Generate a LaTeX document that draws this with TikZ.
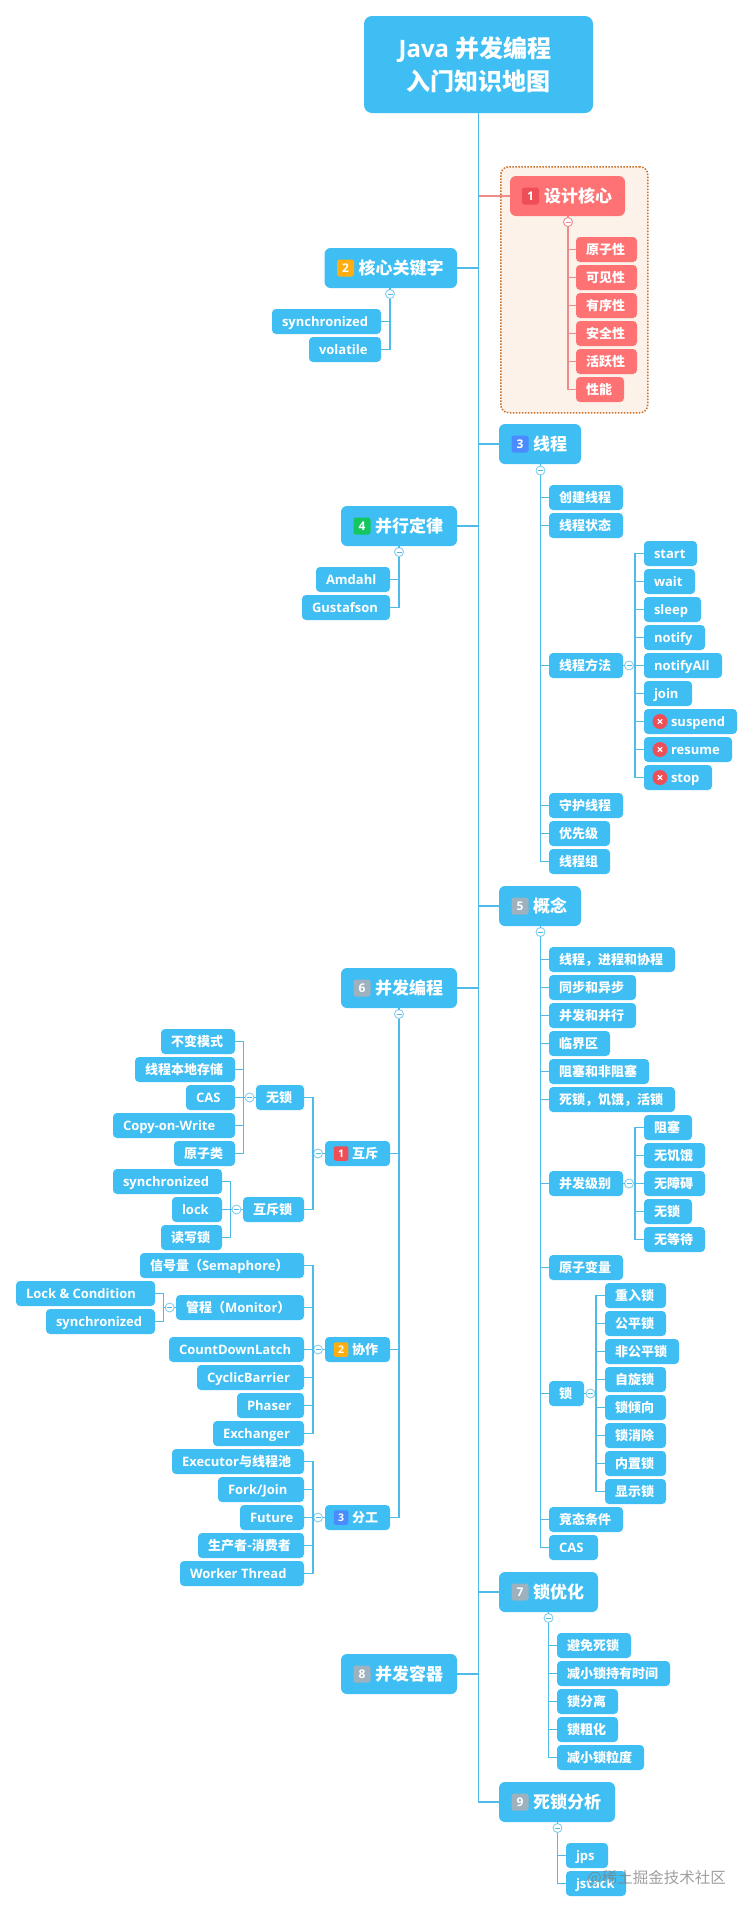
\documentclass[tikz,border=0pt]{standalone}
\usepackage{fontspec}
\setmainfont{Open Sans}
\newfontfamily\cjkfam{Noto Sans CJK SC}
\newcommand{\cj}[1]{{\cjkfam\bfseries #1}}
\definecolor{nodeblue}{HTML}{3EBEF3}
\definecolor{linkblue}{HTML}{4DBCEB}
\definecolor{collblue}{HTML}{85CDEE}
\definecolor{nodered}{HTML}{FE7273}
\definecolor{linkred}{HTML}{F08A8A}
\definecolor{framefill}{HTML}{FDF2E9}
\definecolor{frameline}{HTML}{C8702A}
\definecolor{bred}{HTML}{EE4E55}
\definecolor{byellow}{HTML}{FFAE12}
\definecolor{bblue}{HTML}{4A8CFF}
\definecolor{bgreen}{HTML}{13C75E}
\definecolor{bgray}{HTML}{9DB2BE}
\tikzset{
  base/.style={anchor=north west,inner sep=0pt,outer sep=0pt,text=white,font=\fontsize{13}{16}\selectfont\bfseries},
  leafbox/.style={base,fill=nodeblue,rounded corners=4pt,minimum height=25pt,text height=11pt,text depth=1pt},
  leafred/.style={leafbox,fill=nodered},
  topicbox/.style={base,fill=nodeblue,rounded corners=6pt,minimum height=40pt,text height=14.4pt,text depth=1.2pt,font=\fontsize{17}{20}\selectfont\bfseries},
  topicred/.style={topicbox,fill=nodered},
  rootbox/.style={anchor=north west,fill=nodeblue,rounded corners=8pt,inner sep=0pt,outer sep=0pt,text=white,align=center,minimum width=229pt,minimum height=97pt,font=\fontsize{24}{33}\selectfont\bfseries},
  bigbadge/.style={fill=#1,rounded corners=2.5pt,minimum width=17pt,minimum height=17pt,inner sep=0pt,text=white,font=\fontsize{12}{12}\selectfont\bfseries},
  smallbadge/.style={fill=#1,rounded corners=2pt,minimum width=14.5pt,minimum height=14.5pt,inner sep=0pt,text=white,font=\fontsize{10.5}{11}\selectfont\bfseries},
  coll/.style={circle,draw=collblue,fill=white,line width=0.9pt,minimum size=9pt,inner sep=0pt,outer sep=0pt,
    path picture={\draw[line width=0.9pt,#1] ([xshift=-2.5pt]path picture bounding box.center) -- ([xshift=2.5pt]path picture bounding box.center);}},
  coll/.default=linkblue,
  collred/.style={coll=linkred,draw=linkred},
  link/.style={draw=linkblue,line width=1.2pt},
  linkr/.style={draw=linkred,line width=1.2pt},
  xmark/.style={circle,fill=bred,minimum size=15pt,inner sep=0pt,
    path picture={\draw[white,line width=1.3pt] ([shift={(-2.2pt,-2.2pt)}]path picture bounding box.center) -- ([shift={(2.2pt,2.2pt)}]path picture bounding box.center)
      ([shift={(-2.2pt,2.2pt)}]path picture bounding box.center) -- ([shift={(2.2pt,-2.2pt)}]path picture bounding box.center);}},
  framebox/.style={draw=frameline,fill=framefill,line width=1.5pt,dash pattern=on 1.5pt off 1.5pt,rounded corners=8pt},
  wmark/.style={text=gray,opacity=0.75,inner sep=0pt,font=\fontsize{15.5}{16}\selectfont}
}
% style, left pad, name, x1, x2, ytop, text
\newcommand{\nd}[7]{\pgfmathsetmacro{\boxw}{#5-#4}\node[#1,minimum width=\boxw pt] (#3) at (#4,#6) {\makebox[\boxw pt][l]{\hspace{#2pt}#7}};}
\newcommand{\lfn}[5]{\nd{leafbox}{10}{#1}{#2}{#3}{#4}{#5}}
\newcommand{\lrn}[5]{\nd{leafred}{10}{#1}{#2}{#3}{#4}{#5}}
\newcommand{\tpn}[5]{\nd{topicbox}{34}{#1}{#2}{#3}{#4}{#5}}
\newcommand{\pdn}[5]{\nd{leafbox}{27}{#1}{#2}{#3}{#4}{#5}}
\begin{document}
\begin{tikzpicture}[x=1pt,y=-1pt]
\useasboundingbox (0,0) rectangle (753,1912);
\fill[white] (0,0) rectangle (753,1912);
\node[framebox,anchor=north west,minimum width=147pt,minimum height=246pt,inner sep=0pt] (frame) at (500,166) {};
\node[rootbox] (root) at (364,16) {\hspace*{-7pt}Java \cj{并发编程}\\\hspace*{0pt}\cj{入门知识地图}};

% topics
\nd{topicred}{34}{t1}{510}{625}{176}{\cj{设计核心}}
\tpn{t2}{324.5}{457}{248}{\cj{核心关键字}}
\tpn{t3}{499}{581}{424}{\cj{线程}}
\tpn{t4}{341}{457}{506}{\cj{并行定律}}
\tpn{t5}{499}{581}{886}{\cj{概念}}
\tpn{t6}{341}{457}{968}{\cj{并发编程}}
\tpn{t7}{499}{598}{1572}{\cj{锁优化}}
\tpn{t8}{341}{457}{1654}{\cj{并发容器}}
\tpn{t9}{499}{615}{1782}{\cj{死锁分析}}

% spine
\draw[link] (root.south) |- (t9.west);
\foreach \n in {t3,t5,t7} \draw[link] (root.south) |- (\n.west);
\foreach \n in {t2,t4,t6,t8} \draw[link] (root.south) |- (\n.east);
\draw[linkr] (root.south |- t1.west) -- (t1.west);

% badges
\node[bigbadge=bred] (b1) at ([xshift=20.5pt]t1.west) {1};
\node[bigbadge=byellow] (b2) at ([xshift=21pt]t2.west) {2};
\node[bigbadge=bblue] (b3) at ([xshift=21pt]t3.west) {3};
\node[bigbadge=bgreen] (b4) at ([xshift=21pt]t4.west) {4};
\node[bigbadge=bgray] (b5) at ([xshift=21pt]t5.west) {5};
\node[bigbadge=bgray] (b6) at ([xshift=21pt]t6.west) {6};
\node[bigbadge=bgray] (b7) at ([xshift=21pt]t7.west) {7};
\node[bigbadge=bgray] (b8) at ([xshift=21pt]t8.west) {8};
\node[bigbadge=bgray] (b9) at ([xshift=21pt]t9.west) {9};

% 1
\lrn{a1}{576}{637}{237}{\cj{原子性}}
\lrn{a2}{576}{637}{265}{\cj{可见性}}
\lrn{a3}{576}{637}{293}{\cj{有序性}}
\lrn{a4}{576}{637}{321}{\cj{安全性}}
\lrn{a5}{576}{637}{349}{\cj{活跃性}}
\lrn{a6}{576}{624}{377}{\cj{性能}}
\node[collred] (c1) at (568,222) {};
\draw[linkr] (t1.south -| c1) -- (c1.north);
\foreach \n in {a1,a2,a3,a4,a5,a6} \draw[linkr] (c1.south) |- (\n.west);

% 2
\lfn{k1}{272}{381}{309}{synchronized}
\lfn{k2}{309}{381}{337}{volatile}
\node[coll] (c2) at (390,294) {};
\draw[link] (t2.south -| c2) -- (c2.north);
\foreach \n in {k1,k2} \draw[link] (c2.south) |- (\n.east);

% 3
\lfn{h1}{549}{623}{485}{\cj{创建线程}}
\lfn{h2}{549}{623}{513}{\cj{线程状态}}
\lfn{h3}{549}{623}{653}{\cj{线程方法}}
\lfn{h4}{549}{623}{793}{\cj{守护线程}}
\lfn{h5}{549}{610}{821}{\cj{优先级}}
\lfn{h6}{549}{610}{849}{\cj{线程组}}
\node[coll] (c3) at (540.5,470.5) {};
\draw[link] (t3.south -| c3) -- (c3.north);
\foreach \n in {h1,h2,h3,h4,h5,h6} \draw[link] (c3.south) |- (\n.west);
\lfn{m1}{644}{697}{541}{start}
\lfn{m2}{644}{695}{569}{wait}
\lfn{m3}{644}{701}{597}{sleep}
\lfn{m4}{644}{705}{625}{notify}
\lfn{m5}{644}{722}{653}{notifyAll}
\lfn{m6}{644}{692}{681}{join}
\pdn{m7}{644}{737}{709}{suspend}
\pdn{m8}{644}{732}{737}{resume}
\pdn{m9}{644}{712}{765}{stop}
\node[xmark] (x7) at ([xshift=16pt]m7.west) {};
\node[xmark] (x8) at ([xshift=16pt]m8.west) {};
\node[xmark] (x9) at ([xshift=16pt]m9.west) {};
\node[coll] (cm) at (629,665.5) {};
\coordinate (bm) at (635,665.5);
\draw[link] (h3.east) -- (cm.west) (cm.east) -- (bm);
\foreach \n in {m1,m2,m3,m4,m5,m6,m7,m8,m9} \draw[link] (bm) |- (\n.west);

% 4
\lfn{d1}{316}{390}{567}{Amdahl}
\lfn{d2}{302}{390}{595}{Gustafson}
\node[coll] (c4) at (399,552) {};
\draw[link] (t4.south -| c4) -- (c4.north);
\foreach \n in {d1,d2} \draw[link] (c4.south) |- (\n.east);

% 5
\lfn{g1}{549}{675}{947}{\cj{线程，进程和协程}}
\lfn{g2}{549}{636}{975}{\cj{同步和异步}}
\lfn{g3}{549}{636}{1003}{\cj{并发和并行}}
\lfn{g4}{549}{610}{1031}{\cj{临界区}}
\lfn{g5}{549}{649}{1059}{\cj{阻塞和非阻塞}}
\lfn{g6}{549}{675}{1087}{\cj{死锁，饥饿，活锁}}
\lfn{g7}{549}{623}{1171}{\cj{并发级别}}
\lfn{g8}{549}{623}{1255}{\cj{原子变量}}
\lfn{g9}{549}{584}{1381}{\cj{锁}}
\lfn{g10}{549}{623}{1507}{\cj{竞态条件}}
\lfn{g11}{549}{598}{1535}{CAS}
\node[coll] (c5) at (540.5,932) {};
\draw[link] (t5.south -| c5) -- (c5.north);
\foreach \n in {g1,g2,g3,g4,g5,g6,g7,g8,g9,g10,g11} \draw[link] (c5.south) |- (\n.west);
\lfn{v1}{644}{692}{1115}{\cj{阻塞}}
\lfn{v2}{644}{705}{1143}{\cj{无饥饿}}
\lfn{v3}{644}{705}{1171}{\cj{无障碍}}
\lfn{v4}{644}{692}{1199}{\cj{无锁}}
\lfn{v5}{644}{705}{1227}{\cj{无等待}}
\node[coll] (cv) at (629,1183.5) {};
\coordinate (bv) at (635,1183.5);
\draw[link] (g7.east) -- (cv.west) (cv.east) -- (bv);
\foreach \n in {v1,v2,v3,v4,v5} \draw[link] (bv) |- (\n.west);
\lfn{s1}{605}{666}{1283}{\cj{重入锁}}
\lfn{s2}{605}{666}{1311}{\cj{公平锁}}
\lfn{s3}{605}{679}{1339}{\cj{非公平锁}}
\lfn{s4}{605}{666}{1367}{\cj{自旋锁}}
\lfn{s5}{605}{666}{1395}{\cj{锁倾向}}
\lfn{s6}{605}{666}{1423}{\cj{锁消除}}
\lfn{s7}{605}{666}{1451}{\cj{内置锁}}
\lfn{s8}{605}{666}{1479}{\cj{显示锁}}
\node[coll] (cs) at (590.5,1393.5) {};
\coordinate (bs) at (596,1393.5);
\draw[link] (g9.east) -- (cs.west) (cs.east) -- (bs);
\foreach \n in {s1,s2,s3,s4,s5,s6,s7,s8} \draw[link] (bs) |- (\n.west);

% 6
\pdn{p1}{325}{390}{1141}{\cj{互斥}}
\pdn{p2}{325}{390}{1337}{\cj{协作}}
\pdn{p3}{325}{390}{1505}{\cj{分工}}
\node[smallbadge=bred] (q1) at ([xshift=16pt]p1.west) {1};
\node[smallbadge=byellow] (q2) at ([xshift=16pt]p2.west) {2};
\node[smallbadge=bblue] (q3) at ([xshift=16pt]p3.west) {3};
\node[coll] (c6) at (399,1014) {};
\draw[link] (t6.south -| c6) -- (c6.north);
\foreach \n in {p1,p2,p3} \draw[link] (c6.south) |- (\n.east);

\lfn{w1}{256}{304}{1085}{\cj{无锁}}
\lfn{w2}{243}{304}{1197}{\cj{互斥锁}}
\node[coll] (cp1) at (318,1153.5) {};
\coordinate (bp1) at (313,1153.5);
\draw[link] (p1.west) -- (cp1.east) (cp1.west) -- (bp1);
\foreach \n in {w1,w2} \draw[link] (bp1) |- (\n.east);

\lfn{e1}{161}{235}{1029}{\cj{不变模式}}
\lfn{e2}{135}{235}{1057}{\cj{线程本地存储}}
\lfn{e3}{186}{235}{1085}{CAS}
\lfn{e4}{113}{235}{1113}{Copy-on-Write}
\lfn{e5}{174}{235}{1141}{\cj{原子类}}
\node[coll] (cw1) at (249.5,1097.5) {};
\coordinate (bw1) at (243.3,1097.5);
\draw[link] (w1.west) -- (cw1.east) (cw1.west) -- (bw1);
\foreach \n in {e1,e2,e3,e4,e5} \draw[link] (bw1) |- (\n.east);

\lfn{f1}{113}{222}{1169}{synchronized}
\lfn{f2}{172}{222}{1197}{lock}
\lfn{f3}{161}{222}{1225}{\cj{读写锁}}
\node[coll] (cw2) at (236.5,1209.5) {};
\coordinate (bw2) at (230.7,1209.5);
\draw[link] (w2.west) -- (cw2.east) (cw2.west) -- (bw2);
\foreach \n in {f1,f2,f3} \draw[link] (bw2) |- (\n.east);

\lfn{r1}{140}{304}{1253}{\cj{信号量（}Semaphore\cj{）}}
\lfn{r2}{176}{304}{1295}{\cj{管程（}Monitor\cj{）}}
\lfn{r3}{169}{304}{1337}{CountDownLatch}
\lfn{r4}{197}{304}{1365}{CyclicBarrier}
\lfn{r5}{237}{304}{1393}{Phaser}
\lfn{r6}{213}{304}{1421}{Exchanger}
\node[coll] (cp2) at (318,1349.5) {};
\coordinate (bp2) at (313,1349.5);
\draw[link] (p2.west) -- (cp2.east) (cp2.west) -- (bp2);
\foreach \n in {r1,r2,r3,r4,r5,r6} \draw[link] (bp2) |- (\n.east);

\lfn{o1}{16}{155}{1281}{Lock \& Condition}
\lfn{o2}{46}{155}{1309}{synchronized}
\node[coll] (cr2) at (169.7,1307.5) {};
\coordinate (br2) at (163.7,1307.5);
\draw[link] (r2.west) -- (cr2.east) (cr2.west) -- (br2);
\foreach \n in {o1,o2} \draw[link] (br2) |- (\n.east);

\lfn{u1}{172}{304}{1449}{Executor\cj{与线程池}}
\lfn{u2}{218}{304}{1477}{Fork/Join}
\lfn{u3}{240}{304}{1505}{Future}
\lfn{u4}{198}{304}{1533}{\cj{生产者-消费者}}
\lfn{u5}{180}{304}{1561}{Worker Thread}
\node[coll] (cp3) at (318,1517.5) {};
\coordinate (bp3) at (313,1517.5);
\draw[link] (p3.west) -- (cp3.east) (cp3.west) -- (bp3);
\foreach \n in {u1,u2,u3,u4,u5} \draw[link] (bp3) |- (\n.east);

% 7
\lfn{l1}{557}{631}{1633}{\cj{避免死锁}}
\lfn{l2}{557}{670}{1661}{\cj{减小锁持有时间}}
\lfn{l3}{557}{618}{1689}{\cj{锁分离}}
\lfn{l4}{557}{618}{1717}{\cj{锁粗化}}
\lfn{l5}{557}{644}{1745}{\cj{减小锁粒度}}
\node[coll] (c7) at (548.5,1618) {};
\draw[link] (t7.south -| c7) -- (c7.north);
\foreach \n in {l1,l2,l3,l4,l5} \draw[link] (c7.south) |- (\n.west);

% 9
\lfn{j1}{566}{608}{1843}{jps}
\lfn{j2}{566}{626}{1871}{jstack}
\node[coll] (c9) at (557.5,1828) {};
\draw[link] (t9.south -| c9) -- (c9.north);
\foreach \n in {j1,j2} \draw[link] (c9.south) |- (\n.west);

\node[wmark,anchor=west] (wm) at (587,1878) {{\cjkfam @稀土掘金技术社区}};
\end{tikzpicture}
\end{document}
